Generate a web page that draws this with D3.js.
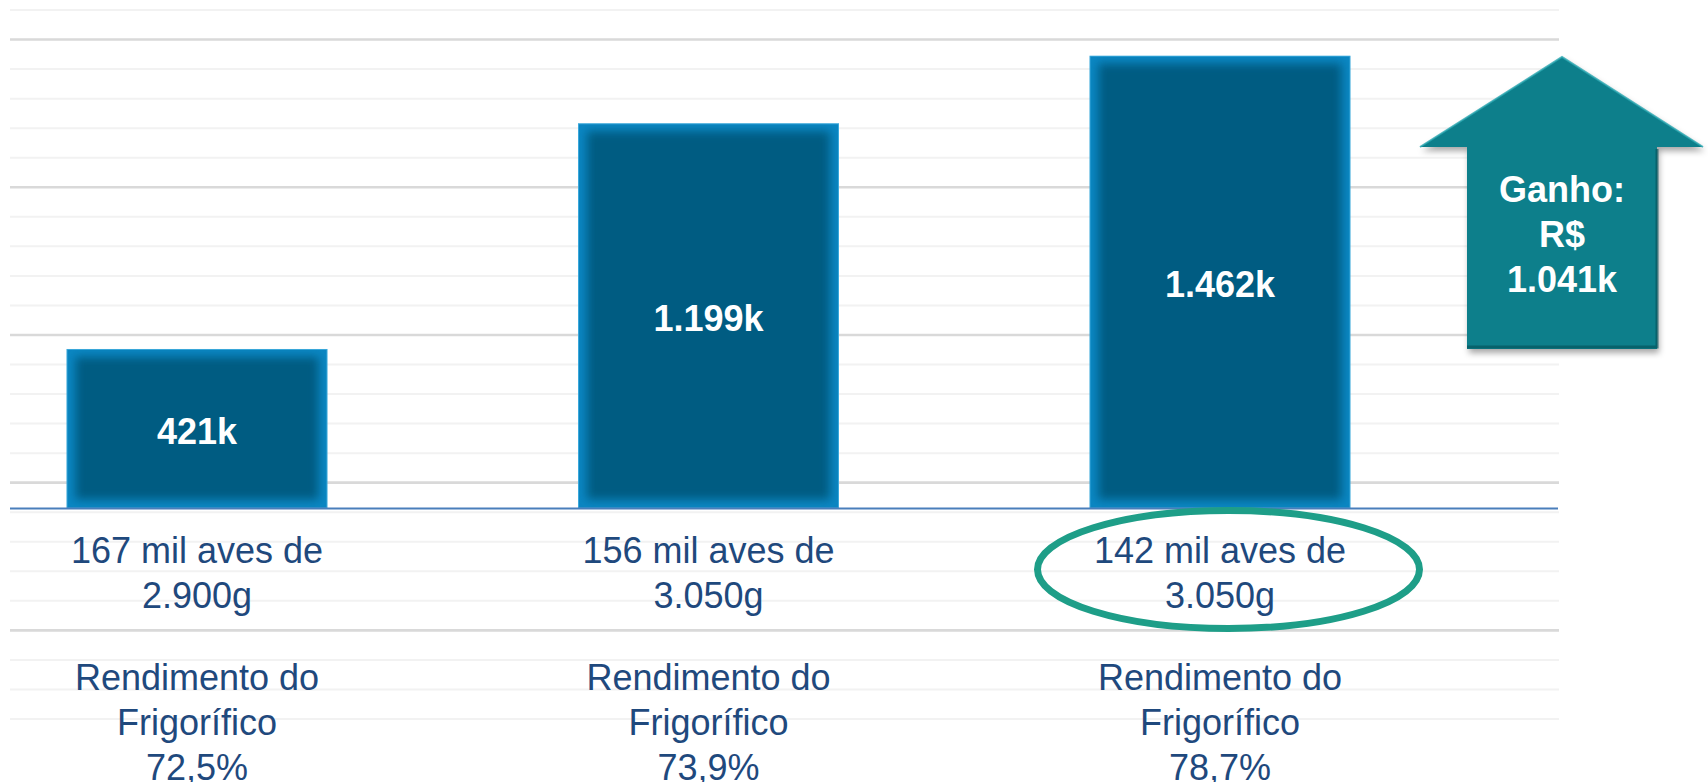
<!DOCTYPE html>
<html>
<head>
<meta charset="utf-8">
<script src="https://cdn.jsdelivr.net/npm/d3@7/dist/d3.min.js"></script>
<style>
  html, body { margin: 0; padding: 0; background: #ffffff; }
  svg { display: block; }
  text { font-family: "Liberation Sans", Arial, sans-serif; }
</style>
</head>
<body>
<svg id="chart" width="1708" height="782"></svg>
<script>
// ---- data ----
const categories = ["A", "B", "C"];
const valueLabels = [421, 1199, 1462];            // k (R$)
const barHeights = [5.40, 13.04, 15.33];           // bar heights, in grid-row units
const birdsLine1 = ["167 mil aves de", "156 mil aves de", "142 mil aves de"];
const birdsLine2 = ["2.900g", "3.050g", "3.050g"];
const yieldLine1 = ["Rendimento do", "Rendimento do", "Rendimento do"];
const yieldLine2 = ["Frigorífico", "Frigorífico", "Frigorífico"];
const yieldPct = ["72,5%", "73,9%", "78,7%"];
const gridRows = d3.range(25);
const highlighted = 2;

// ---- setup ----
const W = 1708, H = 782;
const svg = d3.select("#chart");
const fmt = d3.formatLocale({decimal: ",", thousands: ".", grouping: [3], currency: ["R$", ""]}).format(",d");

const x = d3.scalePoint().domain(categories).range([197, 1220]);
const barW = 261;
const baseY = 508.5;
const rowPx = 29.54;
const y = d3.scaleLinear().domain([0, 17]).range([baseY, baseY - 17 * rowPx]);
const yGrid = d3.scaleLinear().domain([0, 24]).range([10, 719]);

const defs = svg.append("defs");
defs.append("filter").attr("id", "soft").attr("x", "-10%").attr("y", "-10%").attr("width", "120%").attr("height", "120%")
  .append("feGaussianBlur").attr("stdDeviation", 5);
const sh = defs.append("filter").attr("id", "shadow").attr("x", "-20%").attr("y", "-20%").attr("width", "140%").attr("height", "140%");
sh.append("feDropShadow").attr("dx", 2).attr("dy", 4).attr("stdDeviation", 3).attr("flood-color", "#000").attr("flood-opacity", 0.35);
const clip = defs.selectAll("clipPath.bar").data(categories).join("clipPath").attr("class", "bar")
  .attr("id", (d, i) => "clip" + i);
clip.append("rect")
  .attr("x", d => x(d) - barW / 2).attr("width", barW)
  .attr("y", (d, i) => y(barHeights[i])).attr("height", (d, i) => baseY - y(barHeights[i]));

// ---- grid ----
svg.append("g").selectAll("line").data(gridRows).join("line")
  .attr("x1", 10).attr("x2", 1559)
  .attr("y1", d => yGrid(d)).attr("y2", d => yGrid(d))
  .attr("stroke", d => d % 5 === 1 ? "#D9D9D9" : "#F2F2F2")
  .attr("stroke-width", d => d % 5 === 1 ? 2.6 : 2);

// ---- bars ----
const bars = svg.append("g").selectAll("g").data(categories).join("g")
  .attr("clip-path", (d, i) => `url(#clip${i})`);
bars.append("rect")
  .attr("x", d => x(d) - barW / 2).attr("width", barW)
  .attr("y", (d, i) => y(barHeights[i])).attr("height", (d, i) => baseY - y(barHeights[i]))
  .attr("fill", "#0A86C2");
bars.append("rect")
  .attr("x", d => x(d) - barW / 2 + 9).attr("width", barW - 18)
  .attr("y", (d, i) => y(barHeights[i]) + 8).attr("height", (d, i) => baseY - y(barHeights[i]) - 17)
  .attr("fill", "#035B82").attr("filter", "url(#soft)");
svg.append("g").selectAll("rect").data(categories).join("rect")
  .attr("x", d => x(d) - barW / 2 + 0.5).attr("width", barW - 1)
  .attr("y", (d, i) => y(barHeights[i]) + 0.5).attr("height", (d, i) => baseY - y(barHeights[i]) - 1)
  .attr("fill", "none").attr("stroke", "#4FB6E6").attr("stroke-width", 1).attr("stroke-opacity", 0.7);

// bar value labels
svg.append("g").selectAll("text").data(categories).join("text")
  .attr("x", d => x(d))
  .attr("y", (d, i) => (y(barHeights[i]) + baseY) / 2 + 15)
  .attr("text-anchor", "middle").attr("fill", "#ffffff")
  .attr("font-size", 36).attr("font-weight", "bold")
  .text((d, i) => fmt(valueLabels[i]) + "k");

// ---- axis baseline ----
svg.append("line").attr("x1", 10).attr("x2", 1558).attr("y1", baseY).attr("y2", baseY)
  .attr("stroke", "#4A7EBB").attr("stroke-width", 2);

// ---- category texts ----
const cat = svg.append("g").attr("fill", "#1F497D").attr("font-size", 36).attr("text-anchor", "middle");
const lines = [[birdsLine1, 563], [birdsLine2, 608], [yieldLine1, 690], [yieldLine2, 735], [yieldPct, 780]];
lines.forEach(([arr, yy]) => {
  cat.append("g").selectAll("text").data(categories).join("text")
    .attr("x", d => x(d)).attr("y", yy).text((d, i) => arr[i]);
});

// ---- highlight ellipse ----
svg.append("ellipse")
  .attr("cx", x(categories[highlighted]) + 8.5).attr("cy", 569.5)
  .attr("rx", 191).attr("ry", 59)
  .attr("fill", "none").attr("stroke", "#1E9E88").attr("stroke-width", 7);

// ---- gain arrow ----
const ax = 1562;
const arrow = svg.append("g").attr("filter", "url(#shadow)");
const arrowPts = [[ax, 57], [1703, 147], [1657, 147], [1657, 349], [1467, 349], [1467, 147], [1420, 147]];
arrow.append("path").attr("d", d3.line()(arrowPts) + "Z").attr("fill", "#0A7F8B");
// subtle bevel highlights
svg.append("path").attr("d", d3.line()([[1420, 147], [ax, 57], [1703, 147]]))
  .attr("fill", "none").attr("stroke", "#2BA6B0").attr("stroke-width", 2).attr("opacity", 0.8);
svg.append("path").attr("d", d3.line()([[1467, 347], [1657, 347], [1657, 149]]))
  .attr("fill", "none").attr("stroke", "#06555E").attr("stroke-width", 3).attr("opacity", 0.7);

const gain = valueLabels[valueLabels.length - 1] - valueLabels[0];
const gainLines = ["Ganho:", "R$", fmt(gain) + "k"];
svg.append("g").selectAll("text").data(gainLines).join("text")
  .attr("x", ax).attr("y", (d, i) => 202 + i * 45)
  .attr("text-anchor", "middle").attr("fill", "#ffffff")
  .attr("font-size", 36).attr("font-weight", "bold")
  .text(d => d);
</script>
</body>
</html>
